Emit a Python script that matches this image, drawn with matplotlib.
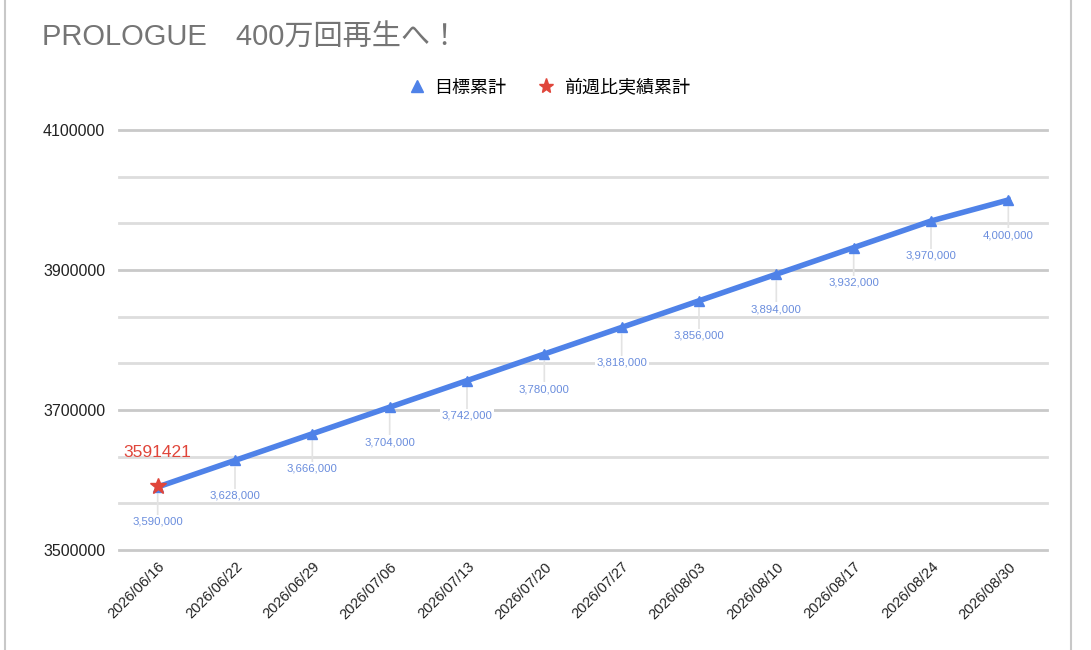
import numpy as np
import matplotlib.pyplot as plt
from matplotlib.lines import Line2D

plt.rcParams['font.family'] = ['Liberation Sans', 'Noto Sans CJK JP', 'DejaVu Sans']

dates = ['2026/06/16', '2026/06/22', '2026/06/29', '2026/07/06', '2026/07/13', '2026/07/20',
         '2026/07/27', '2026/08/03', '2026/08/10', '2026/08/17', '2026/08/24', '2026/08/30']
target = [3590000, 3628000, 3666000, 3704000, 3742000, 3780000,
          3818000, 3856000, 3894000, 3932000, 3970000, 4000000]
actual_idx = [0]
actual = [3591421]
major = [3500000, 3700000, 3900000, 4100000]

blue = '#4f82e8'
red = '#e0463b'
label_blue = '#6a8ddd'

fig = plt.figure(figsize=(10.91, 6.5), dpi=100)
W, H = 1091, 650
ax = fig.add_axes([119 / W, 1 - 550 / H, (1047 - 119) / W, (550 - 130) / H])

x = np.arange(len(dates))
ax.set_xlim(-0.5, len(dates) - 0.5)
ax.set_ylim(major[0], major[-1])

minor = [major[0] + k * 200000 / 3 for k in range(10) if k % 3]
for v in major:
    ax.axhline(v, color='#c9c9c9', lw=2, clip_on=False, zorder=0)
for v in minor:
    ax.axhline(v, color='#dddddd', lw=2, clip_on=False, zorder=0)
ax.set_yticks(major)
ax.set_yticklabels([str(v) for v in major])
for s in ax.spines.values():
    s.set_visible(False)
ax.tick_params(axis='y', length=0, pad=10, labelsize=11.5, labelcolor='#222222')
ax.set_xticks(x)
ax.set_xticklabels(dates, rotation=45, ha='right', rotation_mode='anchor', fontsize=10.5, color='#222222')
ax.tick_params(axis='x', length=0, pad=7)

ax.plot(x, target, color=blue, lw=4, marker='^', markersize=7, zorder=3)

for xi, v in zip(x, target):
    ax.annotate(f'{v:,}', (xi, v), xytext=(0, -35), textcoords='offset pixels',
                ha='center', va='center', fontsize=8.2, color=label_blue,
                bbox=dict(boxstyle='square,pad=0.15', fc='white', ec='none'),
                arrowprops=dict(arrowstyle='-', color='#e3e3e3', lw=1.2, shrinkA=0, shrinkB=5),
                zorder=2)

ax.plot(actual_idx, actual, linestyle='none', marker='*', markersize=12, color=red, zorder=4)
for xi, v in zip(actual_idx, actual):
    ax.annotate(str(v), (xi, v), xytext=(0, 34), textcoords='offset pixels',
                ha='center', va='center', fontsize=12.5, color=red)

fig.text(42 / W, 1 - 38 / H, 'PROLOGUE\u3000400万回再生へ！', fontsize=21, color='#757575',
         ha='left', va='center')

handles = [Line2D([], [], linestyle='none', marker='^', color=blue, markersize=9),
           Line2D([], [], linestyle='none', marker='*', color=red, markersize=11)]
fig.legend(handles, ['目標累計', '前週比実績累計'], loc='center', ncol=2,
           bbox_to_anchor=(548 / W, 1 - 88 / H), frameon=False, fontsize=13,
           handletextpad=0.4, columnspacing=1.6, handlelength=1.2)

# spreadsheet cell borders at the edges
for xe in (5 / W, 1071 / W):
    fig.add_artist(Line2D([xe, xe], [0, 1], color='#c8c8c8', lw=1.5, transform=fig.transFigure))

fig.savefig('out.png', dpi=100)
